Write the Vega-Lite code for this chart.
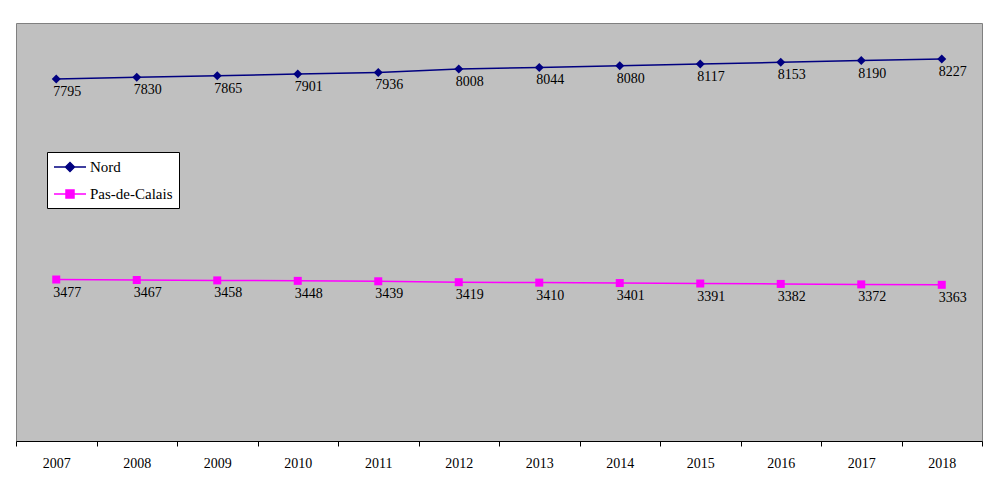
{
  "$schema": "https://vega.github.io/schema/vega-lite/v6.json",
  "autosize": "none",
  "width": 966,
  "height": 418,
  "padding": {"left": 16, "top": 23, "right": 3, "bottom": 45},
  "background": "white",
  "config": {
    "view": {"fill": "#C0C0C0", "stroke": "#808080", "strokeWidth": 1},
    "font": "Liberation Serif",
    "legend": {"labelFont": "Liberation Serif", "labelFontSize": 15, "labelColor": "black"}
  },
  "data": {
    "values": [
      {"year": "2007", "dept": "Nord", "value": 7795},
      {"year": "2008", "dept": "Nord", "value": 7830},
      {"year": "2009", "dept": "Nord", "value": 7865},
      {"year": "2010", "dept": "Nord", "value": 7901},
      {"year": "2011", "dept": "Nord", "value": 7936},
      {"year": "2012", "dept": "Nord", "value": 8008},
      {"year": "2013", "dept": "Nord", "value": 8044},
      {"year": "2014", "dept": "Nord", "value": 8080},
      {"year": "2015", "dept": "Nord", "value": 8117},
      {"year": "2016", "dept": "Nord", "value": 8153},
      {"year": "2017", "dept": "Nord", "value": 8190},
      {"year": "2018", "dept": "Nord", "value": 8227},
      {"year": "2007", "dept": "Pas-de-Calais", "value": 3477},
      {"year": "2008", "dept": "Pas-de-Calais", "value": 3467},
      {"year": "2009", "dept": "Pas-de-Calais", "value": 3458},
      {"year": "2010", "dept": "Pas-de-Calais", "value": 3448},
      {"year": "2011", "dept": "Pas-de-Calais", "value": 3439},
      {"year": "2012", "dept": "Pas-de-Calais", "value": 3419},
      {"year": "2013", "dept": "Pas-de-Calais", "value": 3410},
      {"year": "2014", "dept": "Pas-de-Calais", "value": 3401},
      {"year": "2015", "dept": "Pas-de-Calais", "value": 3391},
      {"year": "2016", "dept": "Pas-de-Calais", "value": 3382},
      {"year": "2017", "dept": "Pas-de-Calais", "value": 3372},
      {"year": "2018", "dept": "Pas-de-Calais", "value": 3363}
    ]
  },
  "encoding": {
    "x": {
      "field": "year", "type": "nominal",
      "scale": {"type": "band", "paddingInner": 0, "paddingOuter": 0},
      "axis": {
        "title": null, "labelAngle": 0, "tickBand": "extent",
        "domainColor": "black", "tickColor": "black", "tickSize": 5,
        "labelFont": "Liberation Serif", "labelFontSize": 14, "labelColor": "black",
        "labelPadding": 10, "grid": false
      }
    },
    "y": {
      "field": "value", "type": "quantitative",
      "scale": {"domain": [0, 9000], "nice": false},
      "axis": null
    }
  },
  "layer": [
    {
      "mark": {"type": "line", "strokeWidth": 1.5},
      "encoding": {
        "color": {
          "field": "dept", "type": "nominal",
          "scale": {"domain": ["Nord", "Pas-de-Calais"], "range": ["#000080", "#FF00FF"]},
          "legend": {
            "title": null, "orient": "none", "legendX": 31, "legendY": 129,
            "fillColor": "white", "strokeColor": "black", "padding": 6,
            "labelFont": "Liberation Serif", "labelFontSize": 15, "labelColor": "black",
            "symbolType": "M-1,0L3,0M1,-0.56L1.56,0L1,0.56L0.44,0Z",
            "symbolSize": 256, "symbolStrokeWidth": 1.5, "rowPadding": 10, "labelOffset": 19,
            "encode": {
              "symbols": {
                "update": {
                  "shape": {"signal": "datum.value === 'Nord' ? 'M-1,0L3,0M1,-0.56L1.56,0L1,0.56L0.44,0Z' : 'M-1,0L3,0M0.5,-0.5L1.5,-0.5L1.5,0.5L0.5,0.5Z'"},
                  "stroke": {"signal": "scale('color', datum.value)"},
                  "fill": {"signal": "scale('color', datum.value)"},
                  "strokeWidth": {"value": 1.5}
                }
              },
              "labels": {
                "update": {
                  "font": {"value": "Liberation Serif"},
                  "fontSize": {"value": 15},
                  "fill": {"value": "black"}
                }
              }
            }
          }
        }
      }
    },
    {
      "transform": [{"filter": "datum.dept === 'Nord'"}],
      "mark": {"type": "point", "filled": true, "opacity": 1, "shape": "diamond", "size": 81, "color": "#000080"}
    },
    {
      "transform": [{"filter": "datum.dept === 'Pas-de-Calais'"}],
      "mark": {"type": "point", "filled": true, "opacity": 1, "shape": "square", "size": 64, "color": "#FF00FF"}
    },
    {
      "mark": {"type": "text", "align": "left", "baseline": "middle", "dx": -3, "dy": 13, "fontSize": 14, "font": "Liberation Serif", "color": "black"},
      "encoding": {
        "text": {"field": "value", "type": "quantitative", "format": "d"}
      }
    }
  ]
}
